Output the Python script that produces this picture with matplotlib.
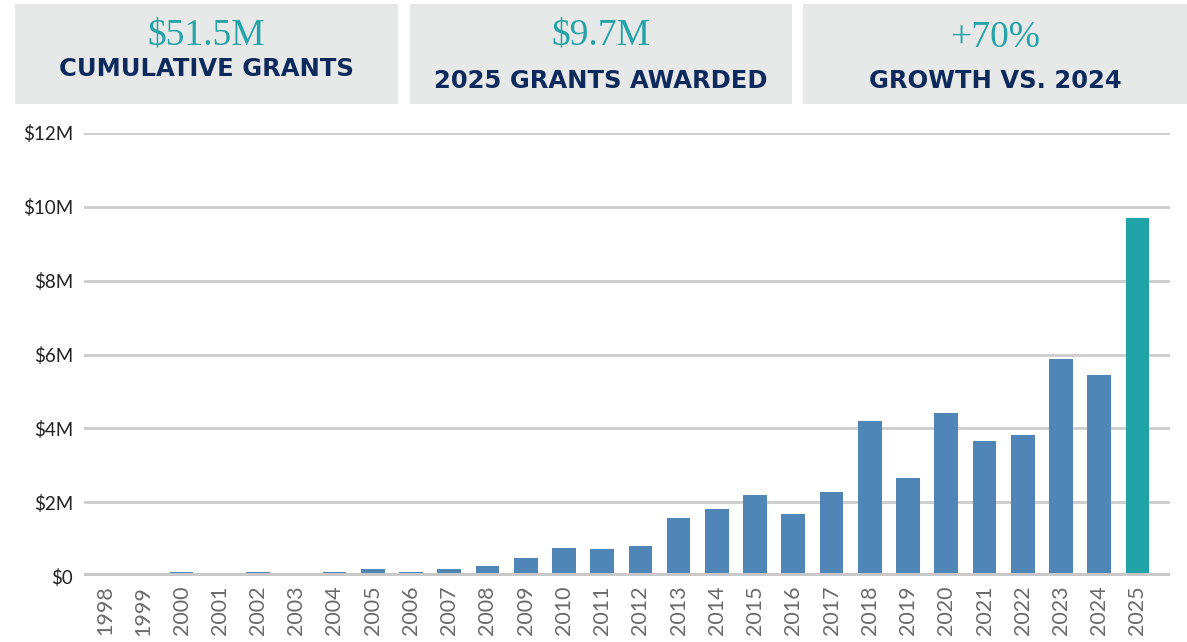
import matplotlib.pyplot as plt
from matplotlib.patches import Rectangle
from matplotlib.ticker import FuncFormatter

years = [str(y) for y in range(1998, 2026)]
grants_m = [0.0, 0.0, 0.1, 0.0, 0.1, 0.0, 0.1, 0.2, 0.11, 0.19, 0.27,
            0.48, 0.75, 0.72, 0.8, 1.57, 1.81, 2.2, 1.67, 2.28, 4.19,
            2.65, 4.41, 3.67, 3.81, 5.89, 5.44, 9.7]
bar_colors = ["#5085b8"] * 27 + ["#21a3a8"]

kpi_values = ["$51.5M", "$9.7M", "+70%"]
kpi_labels = ["CUMULATIVE GRANTS", "2025 GRANTS AWARDED", "GROWTH VS. 2024"]

W, H = 1187, 642
fig = plt.figure(figsize=(W / 100, H / 100), dpi=100)

# KPI panels across the top
panels = [(15, 398), (410, 792), (803, 1187)]
value_y = [35, 35, 38]
label_y = [69, 81, 81]
for (x0, x1), val, lab, vy, ly in zip(panels, kpi_values, kpi_labels, value_y, label_y):
    fig.patches.append(Rectangle((x0 / W, 1 - 104 / H), (x1 - x0) / W, 100 / H,
                                 transform=fig.transFigure, facecolor="#e7e9e9",
                                 edgecolor="none", zorder=0))
    cx = (x0 + x1) / 2 / W
    fig.text(cx, 1 - vy / H, val, ha="center", va="center", color="#25a4a8",
             fontsize=27, family="Liberation Serif")
    fig.text(cx, 1 - ly / H, lab, ha="center", va="center", color="#0e2a5c",
             fontsize=17.5, fontweight="bold", family="DejaVu Sans")

ax = fig.add_axes([84 / W, 1 - 576 / H, (1170 - 84) / W, (576 - 133) / H])
x = list(range(len(years)))
ax.bar(x, grants_m, width=0.62, color=bar_colors, zorder=3)

ax.set_ylim(0, 12)
ax.set_xlim(-0.55, 27.85)
ax.set_yticks([0, 2, 4, 6, 8, 10, 12])
ax.yaxis.set_major_formatter(FuncFormatter(lambda v, p: f"${v:.0f}M" if v else "$0"))
ax.grid(axis="y", color="#cccccc", linewidth=2, zorder=0)
ax.axhline(0, color="#c8c8c8", linewidth=4.3, zorder=4)
ax.set_xticks(x)
ax.set_xticklabels(years, rotation=90, color="#6b6b6b", fontsize=15.5, family="Lato")
for lbl in ax.get_yticklabels():
    lbl.set_family("Lato")
    lbl.set_fontsize(13.5)
    lbl.set_color("#222222")
ax.tick_params(axis="both", length=0)
ax.tick_params(axis="y", pad=8)
ax.tick_params(axis="x", pad=7)
for s in ax.spines.values():
    s.set_visible(False)

fig.savefig("out.png", dpi=100)
